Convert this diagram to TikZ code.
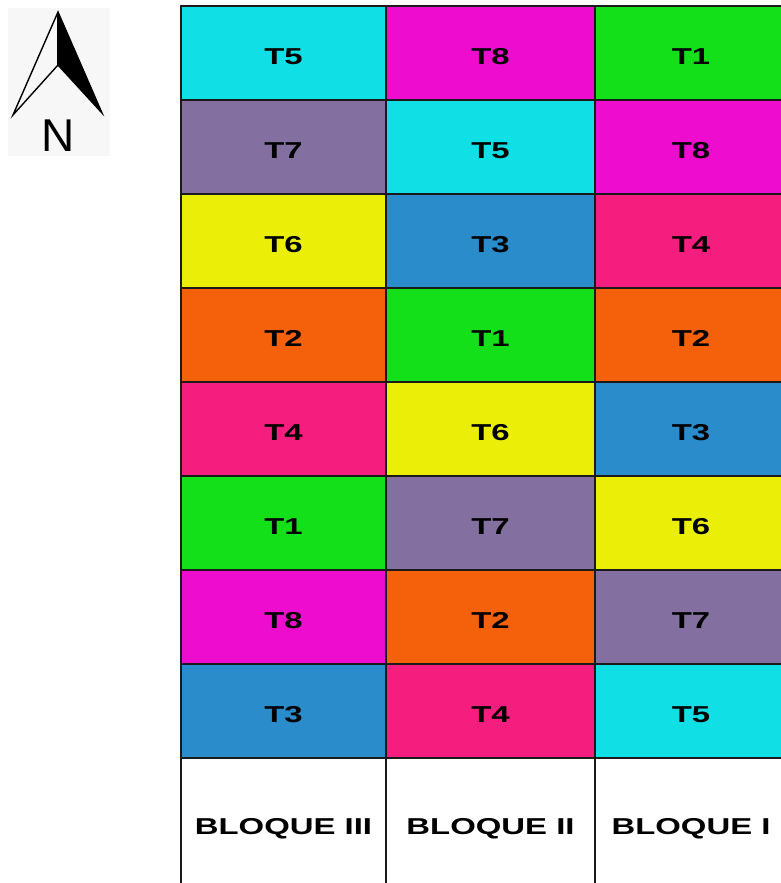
\documentclass[tikz,border=0pt]{standalone}
\usepackage{fontspec}
\usepackage{tikz}
\newfontfamily\cellfont[FakeStretch=1.43]{Liberation Sans}
\newfontfamily\northfont{Liberation Sans}
\definecolor{cT1}{HTML}{14E01A}
\definecolor{cT2}{HTML}{F5610A}
\definecolor{cT3}{HTML}{2A8CCA}
\definecolor{cT4}{HTML}{F51E7E}
\definecolor{cT5}{HTML}{10E0E6}
\definecolor{cT6}{HTML}{EBEF08}
\definecolor{cT7}{HTML}{8470A0}
\definecolor{cT8}{HTML}{EE0CCF}
\definecolor{cLine}{HTML}{1A1A1A}
\tikzset{
  plot/.style={draw=cLine, line width=2pt, inner sep=0pt, minimum height=94pt,
               text height=22pt, text depth=0pt,
               font=\cellfont\bfseries\fontsize{23}{23}\selectfont},
  blabel/.style={plot, fill=white, minimum height=136pt, text height=16.5pt},
  arrowline/.style={line width=1.4pt, line join=miter}
}
\begin{document}
\begin{tikzpicture}[x=1pt, y=-1pt]
\useasboundingbox (0,0) rectangle (781,883);
\clip (0,0) rectangle (781,883);
% north arrow
\fill[black!3] (8,8) rectangle (110,156);
\fill (58,12) -- (58,65) -- (102,113) -- cycle;
\draw[arrowline] (58,12) -- (13,115) -- (58,65) -- (102,113) -- cycle;
\draw[arrowline] (58,12) -- (58,65);
\node[font=\northfont\fontsize{46}{46}\selectfont, inner sep=0pt] (north) at (58,136) {N};
% plots: columns III, II, I
\foreach \row [count=\r] in {{5,8,1},{7,5,8},{6,3,4},{2,1,2},{4,6,3},{1,7,6},{8,2,7},{3,4,5}} {
  \foreach \t [count=\c] in \row {
    \pgfmathsetmacro\cx{{283.5,490.5,691}[\c-1]}
    \pgfmathsetmacro\cw{{205,209,192}[\c-1]}
    \node[plot, fill=cT\t, minimum width=\cw pt] (cell-\r-\c) at (\cx,{6+94*(\r-0.5)}) {T\t};
  }
}
% block labels
\node[blabel, minimum width=205pt] (blk3) at (283.5,826) {BLOQUE III};
\node[blabel, minimum width=209pt] (blk2) at (490.5,826) {BLOQUE II};
\node[blabel, minimum width=192pt] (blk1) at (691,826) {BLOQUE I};
\end{tikzpicture}
\end{document}
